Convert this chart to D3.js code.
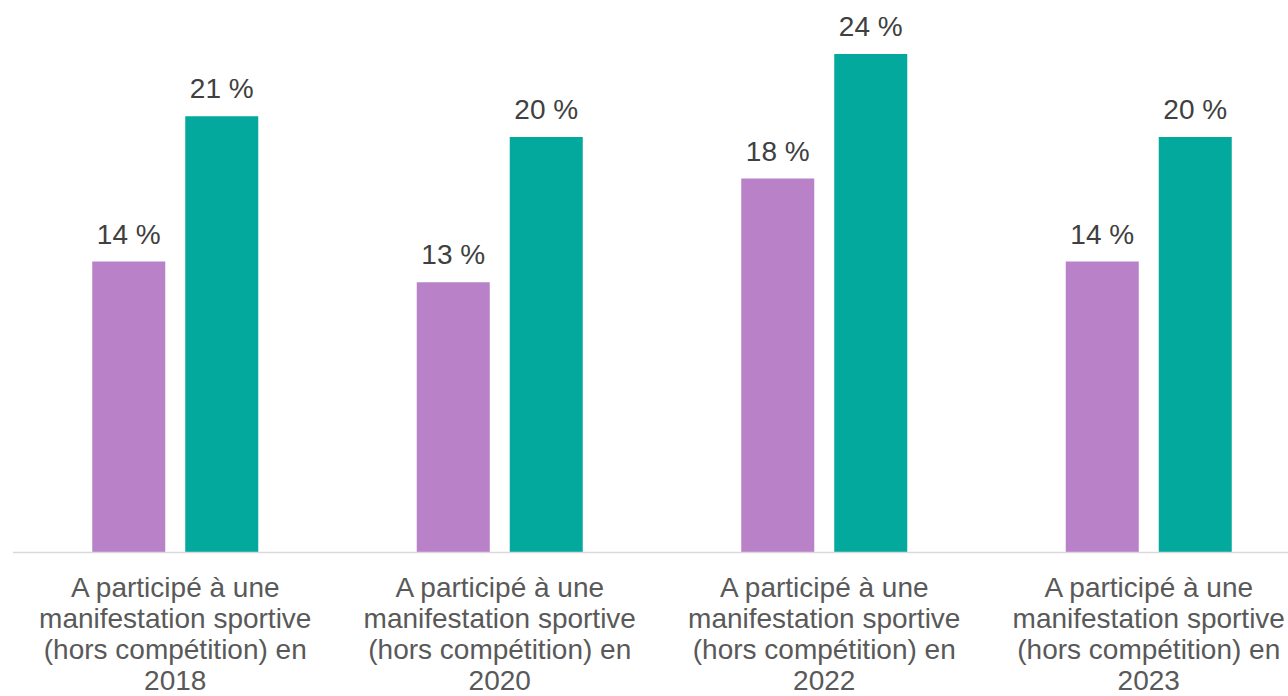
<!DOCTYPE html>
<html>
<head>
<meta charset="utf-8">
<script src="https://cdn.jsdelivr.net/npm/d3@7"></script>
<style>
  body { margin: 0; background: #fff; }
  svg { display: block; font-family: Arial, "Liberation Sans", sans-serif; }
</style>
</head>
<body>
<div id="chart"></div>
<script>
// chart values
var years = ["2018", "2020", "2022", "2023"];
var categoryLines = ["A participé à une", "manifestation sportive", "(hors compétition) en"];
var seriesNames = ["s1", "s2"];
var purpleValues = [14, 13, 18, 14];
var tealValues = [21, 20, 24, 20];
var colours = ["#b981c8", "#04a99d"];

var width = 1288, height = 696;
var baseline = 552;

var svg = d3.select("#chart").append("svg")
  .attr("width", width)
  .attr("height", height);

var x = d3.scaleBand().domain(years).range([13, 1311]).padding(0);
var xInner = d3.scaleBand().domain(seriesNames).range([-83, 83]).paddingInner(0.215);
var y = d3.scaleLinear().domain([0, 25]).range([baseline, baseline - 20.75 * 25]);

var rows = [];
years.forEach(function(yr, i) {
  rows.push({ year: yr, s: "s1", v: purpleValues[i], c: colours[0] });
  rows.push({ year: yr, s: "s2", v: tealValues[i], c: colours[1] });
});

function cx(d) { return x(d.year) + x.bandwidth() / 2; }

svg.selectAll("rect.bar").data(rows).enter()
  .append("rect")
    .attr("class", "bar")
    .attr("x", d => cx(d) + xInner(d.s))
    .attr("y", d => y(d.v))
    .attr("width", xInner.bandwidth())
    .attr("height", d => y(0) - y(d.v))
    .attr("fill", d => d.c);

// baseline
svg.append("line")
  .attr("x1", 13).attr("x2", width)
  .attr("y1", baseline + 0.5).attr("y2", baseline + 0.5)
  .attr("stroke", "#d9d9d9")
  .attr("stroke-width", 1.5);

// value labels
svg.selectAll("text.val").data(rows).enter()
  .append("text")
    .attr("class", "val")
    .attr("x", d => cx(d) + xInner(d.s) + xInner.bandwidth() / 2)
    .attr("y", d => y(d.v) - 18)
    .attr("text-anchor", "middle")
    .attr("fill", "#404040")
    .style("font-size", "28px")
    .text(d => d.v + " %");

// category labels
var cat = svg.selectAll("text.cat").data(years).enter()
  .append("text")
    .attr("class", "cat")
    .attr("text-anchor", "middle")
    .attr("fill", "#595959")
    .style("font-size", "28px");

cat.each(function(yr) {
  var t = d3.select(this);
  var lines = categoryLines.concat([yr]);
  lines.forEach(function(l, i) {
    t.append("tspan")
      .attr("x", x(yr) + x.bandwidth() / 2)
      .attr("y", 597 + i * 31)
      .text(l);
  });
});
</script>
</body>
</html>
